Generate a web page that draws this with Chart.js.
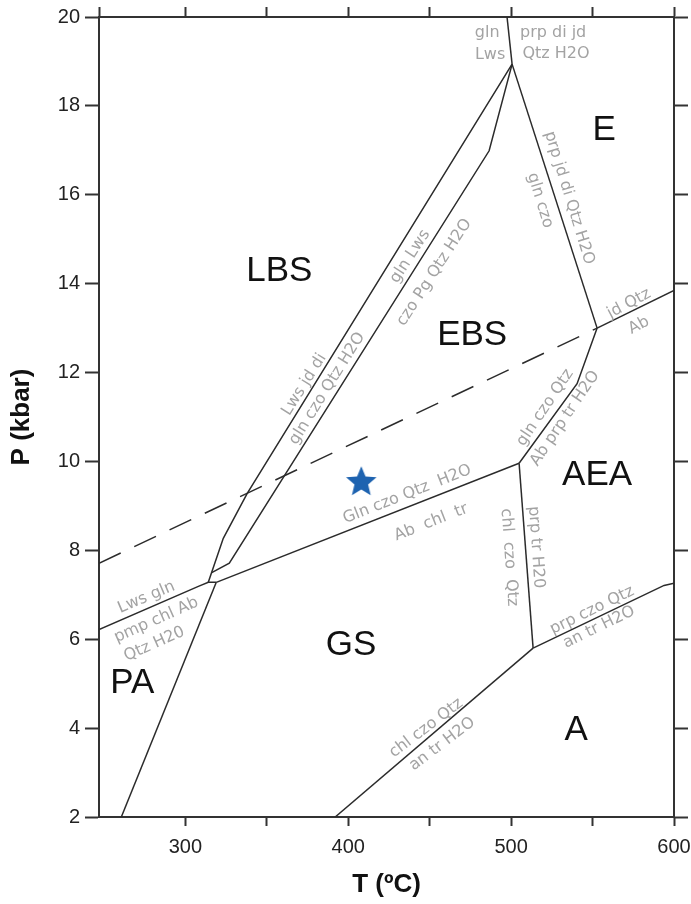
<!DOCTYPE html>
<html>
<head>
<meta charset="utf-8">
<script src="https://cdn.jsdelivr.net/npm/chart.js@4/dist/chart.umd.min.js"></script>
<style>
  html, body { margin: 0; padding: 0; background: #fff; }
  #wrap { width: 691px; height: 904px; }
</style>
</head>
<body>
<div id="wrap"><canvas id="c" width="691" height="904"></canvas></div>
<script>
// Axis ranges and ticks
const tRange = [247, 600];
const pRange = [2, 20];
const tTicks = [300, 350, 400, 450, 500, 550, 600];
const tTickLabels = ['300', '', '400', '', '500', '', '600'];
const pTicks = [2, 4, 6, 8, 10, 12, 14, 16, 18, 20];
const pTickLabels = ['2', '4', '6', '8', '10', '12', '14', '16', '18', '20'];

// Reaction boundaries as [T (ºC), P (kbar)] vertices
const lwsGlnBoundary   = [[247, 6.22], [308, 7.19], [314.1, 7.28], [319.0, 7.28]];
const paGsBoundary     = [[260.7, 2], [319.0, 7.28]];
const gsEbsBoundary    = [[319.0, 7.28], [504.9, 9.96]];
const lbsOuterBoundary = [[314.1, 7.28], [323.3, 8.27], [338.0, 9.28], [500.6, 18.94]];
const lbsInnerBoundary = [[316.2, 7.5], [327.0, 7.71], [486.5, 16.99], [500.6, 18.94]];
const glnLwsTop        = [[500.6, 18.94], [497.5, 20]];
const eclogiteBoundary = [[500.6, 18.94], [552.8, 13.0]];
const jdQtzAbBoundary  = [[552.8, 13.0], [600, 13.85]];
const ebsAeaBoundary   = [[504.9, 9.96], [540.5, 11.75], [552.8, 13.0]];
const gsAeaBoundary    = [[504.9, 9.96], [513.5, 5.80]];
const aeaAmphBoundary  = [[513.5, 5.80], [593.9, 7.21], [600, 7.26]];
const gsAmphBoundary   = [[392.0, 2], [513.5, 5.80]];
const dashedBoundary   = [[247, 7.71], [552.8, 13.0]];

// Sample P-T estimate
const sampleT = [408];
const sampleP = [9.56];

// Metamorphic facies fields
const regionNames = ['LBS', 'EBS', 'E', 'AEA', 'GS', 'PA', 'A'];
const regionT = [357.7, 476.1, 557.1, 552.8, 401.8, 267.5, 539.9];
const regionP = [14.27, 12.83, 17.44, 9.69, 5.87, 5.01, 3.96];

// Reaction annotations along the boundaries
const reactionText = ['gln', 'Lws', 'prp di jd', 'Qtz H2O',
  'prp jd di Qtz H2O', 'gln czo',
  'Lws jd di', 'gln czo Qtz H2O', 'gln Lws', 'czo Pg Qtz H2O',
  'Gln czo Qtz  H2O', 'Ab  chl  tr',
  'Lws gln', 'pmp chl Ab', 'Qtz H20',
  'gln czo Qtz', 'Ab prp tr H2O', 'jd Qtz', 'Ab',
  'chl  czo  Qtz', 'prp tr H20',
  'prp czo Qtz', 'an tr H2O', 'chl czo Qtz', 'an tr H2O'];
const reactionT = [485.3, 487.1, 525.8, 527.6,
  535.6, 517.8,
  373.0, 387.1, 438.0, 452.8,
  436.2, 450.9,
  276.1, 282.2, 281.0,
  520.9, 533.1, 572.4, 578.5,
  498.8, 515.3,
  549.7, 554.0, 447.9, 457.7];
const reactionP = [19.64, 19.15, 19.64, 19.17,
  15.93, 15.87,
  11.73, 11.64, 14.61, 14.25,
  9.26, 8.63,
  6.94, 6.43, 5.89,
  11.21, 10.97, 13.55, 13.06,
  7.84, 8.07,
  6.65, 6.27, 4.0, 3.64];
const reactionAngle = [0, 0, 0, 0,
  73, 73,
  -58, -58, -57, -57,
  -21.5, -21.5,
  -23, -24, -24,
  -56, -56, -28, -28,
  86, 86,
  -26, -26, -37, -37];

const solidLines = [lwsGlnBoundary, paGsBoundary, gsEbsBoundary, lbsOuterBoundary,
  lbsInnerBoundary, glnLwsTop, eclogiteBoundary, jdQtzAbBoundary, ebsAeaBoundary,
  gsAeaBoundary, aeaAmphBoundary, gsAmphBoundary];

const toPoints = arr => arr.map(([t, p]) => ({ x: t, y: p }));

// Filled five-point star used as the sample marker
function starImage(r, color) {
  const size = Math.ceil(r * 2 + 2);
  const cv = document.createElement('canvas');
  cv.width = size; cv.height = size;
  const g = cv.getContext('2d');
  const cx = size / 2, cy = size / 2 + r * 0.08, ri = r * 0.45;
  g.beginPath();
  for (let k = 0; k < 10; k++) {
    const rad = k % 2 === 0 ? r : ri;
    const a = -Math.PI / 2 + k * Math.PI / 5;
    const px = cx + rad * Math.cos(a), py = cy + rad * Math.sin(a);
    if (k === 0) g.moveTo(px, py); else g.lineTo(px, py);
  }
  g.closePath();
  g.fillStyle = color;
  g.fill();
  return cv;
}

const datasets = solidLines.map(line => ({
  data: toPoints(line),
  showLine: true,
  borderColor: '#2b2b2b',
  borderWidth: 1.5,
  pointRadius: 0,
  tension: 0
}));
datasets.push({
  data: toPoints(dashedBoundary),
  showLine: true,
  borderColor: '#2b2b2b',
  borderWidth: 1.5,
  borderDash: [24, 15],
  pointRadius: 0
});
datasets.push({
  data: sampleT.map((t, i) => ({ x: t, y: sampleP[i] })),
  showLine: false,
  pointStyle: starImage(16, '#1e63b0'),
  pointRadius: 16
});

// Field names and reaction labels, placed through the chart scales
const labelPlugin = {
  id: 'phaseLabels',
  afterDatasetsDraw(chart) {
    const { ctx, scales: { x, y } } = chart;
    ctx.save();
    ctx.textAlign = 'center';
    ctx.textBaseline = 'middle';
    ctx.fillStyle = '#111';
    ctx.font = '35px "Liberation Sans", Arial, sans-serif';
    regionNames.forEach((n, i) => {
      ctx.fillText(n, x.getPixelForValue(regionT[i]), y.getPixelForValue(regionP[i]));
    });
    ctx.fillStyle = '#a3a3a3';
    ctx.font = '16px "DejaVu Sans", sans-serif';
    reactionText.forEach((t, i) => {
      ctx.save();
      ctx.translate(x.getPixelForValue(reactionT[i]), y.getPixelForValue(reactionP[i]));
      ctx.rotate(reactionAngle[i] * Math.PI / 180);
      ctx.fillText(t, 0, 0);
      ctx.restore();
    });
    ctx.restore();
  }
};

const axisColor = '#333';
const tickFont = { family: '"Liberation Sans", Arial, sans-serif', size: 20 };
const titleFont = { family: '"Liberation Sans", Arial, sans-serif', size: 26, weight: 'bold' };

// Fixed axis box sizes so the plot frame sits at the same place every time
const fixBox = (w, h) => s => {
  if (w !== null) s.width = w;
  if (h !== null) s.height = h;
  s.paddingLeft = 0; s.paddingRight = 0; s.paddingTop = 0; s.paddingBottom = 0;
};

new Chart(document.getElementById('c'), {
  type: 'scatter',
  data: { datasets },
  plugins: [labelPlugin],
  options: {
    responsive: false,
    animation: false,
    devicePixelRatio: 1,
    layout: { padding: 0 },
    plugins: { legend: { display: false }, tooltip: { enabled: false } },
    scales: {
      x: {
        type: 'linear', position: 'bottom', min: tRange[0], max: tRange[1],
        afterBuildTicks: s => { s.ticks = tTicks.map(v => ({ value: v })); },
        afterFit: fixBox(null, 87),
        ticks: {
          autoSkip: false, maxRotation: 0, padding: 9, color: '#222', font: tickFont,
          callback: (v, i) => tTickLabels[i]
        },
        grid: { drawOnChartArea: false, drawTicks: true, tickLength: 9, tickColor: axisColor, tickWidth: 2 },
        border: { display: true, color: axisColor, width: 2 },
        title: { display: true, text: 'T (ºC)', color: '#111', font: titleFont, padding: { top: 0, bottom: 4 } }
      },
      x2: {
        type: 'linear', position: 'top', min: tRange[0], max: tRange[1],
        afterBuildTicks: s => { s.ticks = [tRange[0]].concat(tTicks).map(v => ({ value: v })); },
        afterFit: fixBox(null, 16),
        ticks: { display: false },
        grid: { drawOnChartArea: false, drawTicks: true, tickLength: 10, tickColor: axisColor, tickWidth: 2 },
        border: { display: true, color: axisColor, width: 2 }
      },
      y: {
        type: 'linear', position: 'left', min: pRange[0], max: pRange[1],
        afterBuildTicks: s => { s.ticks = pTicks.map(v => ({ value: v })); },
        afterFit: fixBox(99, null),
        ticks: {
          autoSkip: false, padding: 5, color: '#222', font: tickFont,
          callback: (v, i) => pTickLabels[i]
        },
        grid: { drawOnChartArea: false, drawTicks: true, tickLength: 14, tickColor: axisColor, tickWidth: 2 },
        border: { display: true, color: axisColor, width: 2 },
        title: { display: true, text: 'P (kbar)', color: '#111', font: titleFont, padding: { top: 6, bottom: 0 } }
      },
      y2: {
        type: 'linear', position: 'right', min: pRange[0], max: pRange[1],
        afterBuildTicks: s => { s.ticks = pTicks.map(v => ({ value: v })); },
        afterFit: fixBox(17, null),
        ticks: { display: false },
        grid: { drawOnChartArea: false, drawTicks: true, tickLength: 14, tickColor: axisColor, tickWidth: 2 },
        border: { display: true, color: axisColor, width: 2 }
      }
    }
  }
});
</script>
</body>
</html>
